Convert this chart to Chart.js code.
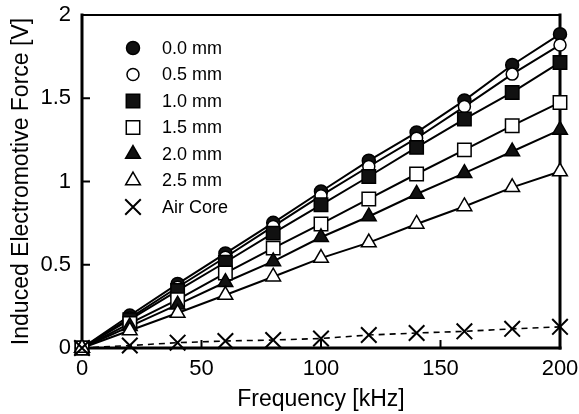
<!DOCTYPE html>
<html><head><meta charset="utf-8">
<script src="https://cdn.jsdelivr.net/npm/chart.js@4"></script>
<style>html,body{margin:0;padding:0;background:#fff}#wrap{width:579px;height:414px}</style>
</head><body><div id="wrap"><canvas id="c"></canvas></div>
<script>
const freq = [0, 20, 40, 60, 80, 100, 120, 140, 160, 180, 200];
const seriesLabels = ['0.0 mm', '0.5 mm', '1.0 mm', '1.5 mm', '2.0 mm', '2.5 mm', 'Air Core'];
const emf00 = [0, 0.195, 0.385, 0.568, 0.752, 0.94, 1.125, 1.295, 1.487, 1.70, 1.885];
const emf05 = [0, 0.18, 0.365, 0.545, 0.73, 0.915, 1.09, 1.26, 1.45, 1.645, 1.82];
const emf10 = [0, 0.17, 0.345, 0.515, 0.69, 0.86, 1.03, 1.205, 1.375, 1.535, 1.715];
const emf15 = [0, 0.148, 0.29, 0.45, 0.60, 0.745, 0.895, 1.045, 1.19, 1.335, 1.475];
const emf20 = [0, 0.13, 0.26, 0.395, 0.52, 0.665, 0.79, 0.925, 1.05, 1.18, 1.31];
const emf25 = [0, 0.105, 0.21, 0.318, 0.428, 0.54, 0.633, 0.745, 0.85, 0.965, 1.06];
const emfAir = [0, 0.015, 0.032, 0.042, 0.048, 0.057, 0.078, 0.09, 0.1, 0.115, 0.127];
const xTicks = [0, 50, 100, 150, 200];
const yTicks = [0, 0.5, 1, 1.5, 2];
const xTickLabels = ['0', '50', '100', '150', '200'];
const yTickLabels = ['0', '0.5', '1', '1.5', '2'];

const allSeries = [emf00, emf05, emf10, emf15, emf20, emf25, emfAir];
const styles = [
  {ps:'circle', r:6.5, fill:'#111'},
  {ps:'circle', r:6, fill:'#fff'},
  {ps:'rect', r:9.5, fill:'#111'},
  {ps:'rect', r:9.5, fill:'#fff'},
  {ps:'triangle', r:8.5, fill:'#111'},
  {ps:'triangle', r:8.5, fill:'#fff'},
  {ps:'crossRot', r:11, fill:'#000'}
];

const datasets = [];
allSeries.forEach((vals, i) => {
  const pts = freq.map((f, k) => ({x: f, y: vals[k]}));
  datasets.push({
    label: seriesLabels[i] + ' line', data: pts, borderColor: '#000',
    borderWidth: i === 6 ? 1.6 : 2, borderDash: i === 6 ? [6, 5] : [],
    pointRadius: 0, fill: false, tension: 0, order: 100, clip: false, isLine: true
  });
  const s = styles[i];
  datasets.push({
    label: seriesLabels[i], data: pts, showLine: false,
    pointStyle: s.ps, pointRadius: s.r, pointHoverRadius: s.r,
    pointBackgroundColor: s.fill, pointBorderColor: '#000',
    pointBorderWidth: i === 6 ? 2 : 1.5, order: -i, clip: false, isLine: false
  });
});

const framePlugin = {
  id: 'frame',
  beforeDatasetsDraw(chart) {
    const {ctx, chartArea: a, scales} = chart;
    ctx.save();
    ctx.strokeStyle = '#000';
    ctx.lineCap = 'square';
    ctx.lineWidth = 2;
    ctx.beginPath(); ctx.moveTo(a.left, a.top); ctx.lineTo(a.right, a.top); ctx.stroke();
    ctx.lineWidth = 3;
    ctx.beginPath(); ctx.moveTo(a.right, a.top); ctx.lineTo(a.right, a.bottom); ctx.stroke();
    ctx.beginPath(); ctx.moveTo(a.left, a.top); ctx.lineTo(a.left, a.bottom); ctx.lineTo(a.right, a.bottom); ctx.stroke();
    ctx.lineWidth = 2;
    ctx.lineCap = 'butt';
    scales.x.ticks.forEach(t => {
      const px = scales.x.getPixelForValue(t.value);
      ctx.beginPath(); ctx.moveTo(px, a.bottom); ctx.lineTo(px, a.bottom - 8); ctx.stroke();
    });
    scales.y.ticks.forEach(t => {
      const py = scales.y.getPixelForValue(t.value);
      ctx.beginPath(); ctx.moveTo(a.left, py); ctx.lineTo(a.left + 8, py); ctx.stroke();
    });
    ctx.restore();
  }
};

const legendPlugin = {
  id: 'insideLegend',
  afterDatasetsDraw(chart) {
    const {ctx} = chart;
    ctx.save();
    ctx.font = '18px "Liberation Sans", Arial, sans-serif';
    ctx.textBaseline = 'middle';
    ctx.textAlign = 'left';
    const markerSets = chart.data.datasets.filter(d => !d.isLine);
    markerSets.forEach((d, i) => {
      const y = 48 + i * 26.5;
      ctx.fillStyle = d.pointBackgroundColor;
      ctx.strokeStyle = '#000';
      ctx.lineWidth = d.pointBorderWidth;
      Chart.helpers.drawPoint(ctx, {pointStyle: d.pointStyle, radius: d.pointRadius, rotation: 0, borderWidth: d.pointBorderWidth}, 133, y);
      ctx.fillStyle = '#000';
      ctx.fillText(d.label, 162, y + 1);
    });
    ctx.restore();
  }
};

const FONT = '"Liberation Sans", Arial, sans-serif';
new Chart(document.getElementById('c'), {
  type: 'line',
  data: {datasets},
  plugins: [framePlugin, legendPlugin],
  options: {
    responsive: true, maintainAspectRatio: false, animation: false,
    layout: {padding: {left: 0, top: 15, right: 19, bottom: 0}},
    plugins: {legend: {display: false}, tooltip: {enabled: false}},
    scales: {
      x: {
        type: 'linear', min: 0, max: 200,
        afterBuildTicks: s => { s.ticks = xTicks.map(v => ({value: v})); },
        afterFit: s => { s.height = 66; s.paddingLeft = 0; s.paddingRight = 0; },
        grid: {display: false, drawTicks: false},
        border: {display: false},
        ticks: {color: '#000', font: {size: 22, family: FONT}, padding: 8, maxRotation: 0,
          callback: (v) => xTickLabels[xTicks.indexOf(v)]},
        title: {display: true, text: 'Frequency [kHz]', color: '#000', font: {size: 23, family: FONT}, padding: {top: 0, bottom: 1}}
      },
      y: {
        type: 'linear', min: 0, max: 2,
        afterBuildTicks: s => { s.ticks = yTicks.map(v => ({value: v})); },
        afterFit: s => { s.width = 82; s.paddingTop = 0; s.paddingBottom = 0; },
        grid: {display: false, drawTicks: false},
        border: {display: false},
        ticks: {color: '#000', font: {size: 22, family: FONT}, padding: 11,
          callback: (v) => yTickLabels[yTicks.indexOf(v)]},
        title: {display: true, text: 'Induced Electromotive Force [V]', color: '#000', font: {size: 23, family: FONT}, padding: {top: 8, bottom: 0}}
      }
    }
  }
});
</script>
</body></html>
